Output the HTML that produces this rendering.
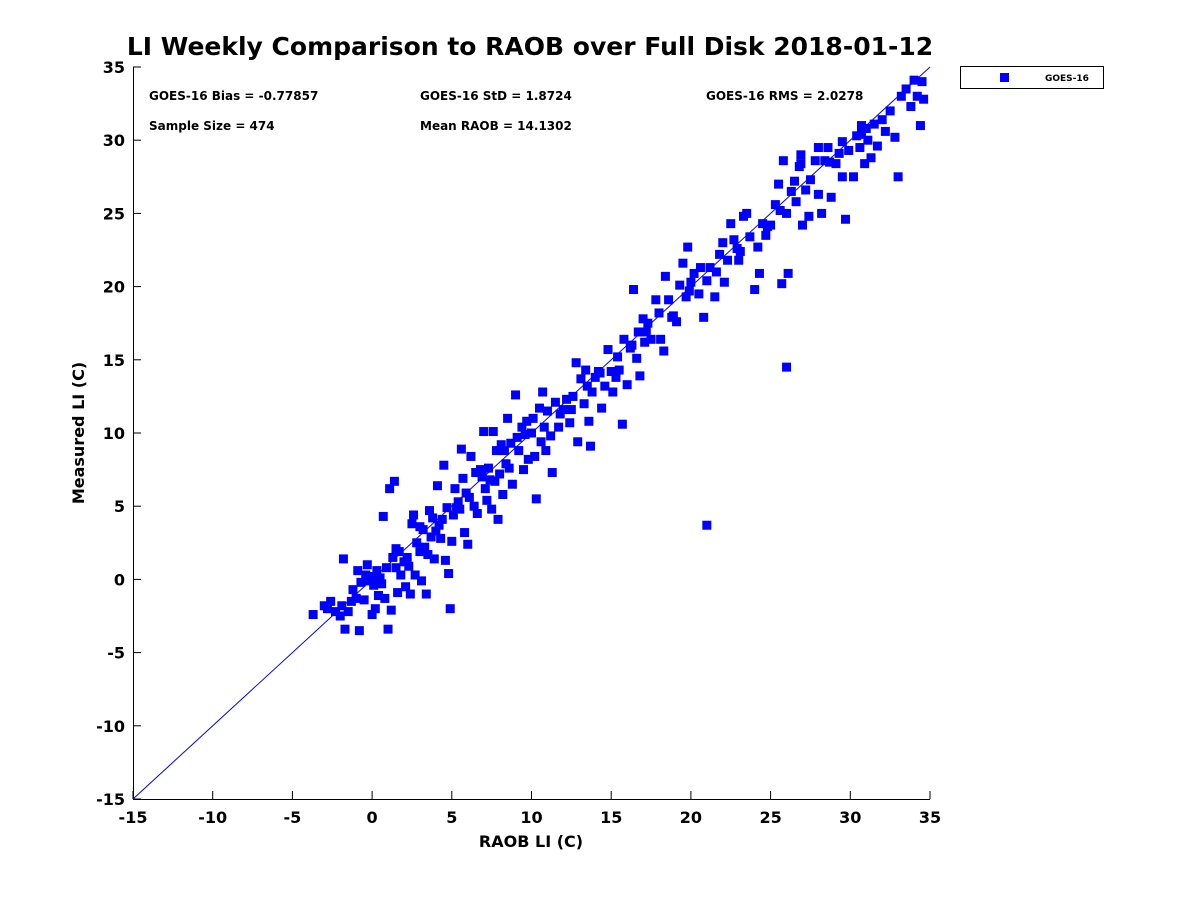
<!DOCTYPE html>
<html><head><meta charset="utf-8"><style>
body{margin:0;background:#fff;font-family:"DejaVu Sans","Liberation Sans",sans-serif}
</style></head><body>
<svg id="chart" width="1200" height="900" viewBox="0 0 1200 900" xmlns="http://www.w3.org/2000/svg" font-family="DejaVu Sans, Liberation Sans, sans-serif">
<rect width="1200" height="900" fill="#fff"/>
<text x="530" y="55" text-anchor="middle" font-size="25" font-weight="bold" fill="#000">LI Weekly Comparison to RAOB over Full Disk 2018-01-12</text>
<g id="axes"></g>
<g id="stats" font-size="12" font-weight="bold" fill="#000">
<text x="149" y="100">GOES-16 Bias = -0.77857</text>
<text x="420" y="100">GOES-16 StD = 1.8724</text>
<text x="706" y="100">GOES-16 RMS = 2.0278</text>
<text x="149" y="130">Sample Size = 474</text>
<text x="420" y="130">Mean RAOB = 14.1302</text>
</g>
<g>
<rect x="960.5" y="66.5" width="143" height="22" fill="#fff" stroke="#000" stroke-width="1"/>
<rect x="1000" y="73" width="9" height="9" fill="#0000ff"/>
<text x="1045" y="81" font-size="9" font-weight="bold">GOES-16</text>
</g>
<g id="marks"></g>
<text x="531" y="847" text-anchor="middle" font-size="16" font-weight="bold">RAOB LI (C)</text>
<text transform="translate(84,433) rotate(-90)" text-anchor="middle" font-size="16" font-weight="bold">Measured LI (C)</text>
</svg>
<script>
const xTicks=[-15,-10,-5,0,5,10,15,20,25,30,35];
const yTicks=[-15,-10,-5,0,5,10,15,20,25,30,35];
const raobX=[-3.7,-3,-2.8,-2.6,-2.3,-2,-1.9,-1.8,-1.7,-1.5,-1.3,-1.2,-1,-0.9,-0.8,-0.7,-0.5,-0.4,-0.3,-0.2,0,0,0.1,0.2,0.3,0.4,0.5,0.6,0.7,0.8,0.9,1,1.1,1.2,1.3,1.4,1.5,1.6,1.7,1.8,2,2.1,2.3,2.4,2.5,2.6,2.7,2.8,3,3.1,3.2,3.3,3.4,3.5,3.6,3.7,3.8,3.9,4,4.1,4.2,4.3,4.5,4.6,4.7,4.8,4.9,5,5.1,5.2,5.4,5.5,5.6,5.7,5.8,5.9,6,6.2,6.4,6.5,6.6,6.8,7,7.1,7.2,7.3,7.5,7.6,7.7,7.8,7.9,8,8.1,8.2,8.3,8.5,8.6,8.7,8.8,9,9.1,9.2,9.4,9.5,9.7,9.8,10,10.1,10.2,10.3,10.5,10.6,10.7,10.9,11,11.2,11.3,11.5,11.7,12,12.2,12.4,12.6,12.8,12.9,13.1,13.3,13.4,13.6,13.7,13.8,14,14.2,14.4,14.6,14.8,15,15.1,15.3,15.5,15.7,15.8,16,16.2,16.4,16.6,16.7,16.8,17,17.1,17.3,17.5,17.8,18,18.1,18.3,18.4,18.6,18.9,19.1,19.3,19.5,19.7,19.8,20,20.2,20.5,20.6,20.8,21,21.2,21.5,21.8,22,22.1,22.3,22.5,22.7,22.9,23,23.3,23.5,23.7,24,24.2,24.3,24.5,24.7,25,25.3,25.5,25.6,25.7,26,26.1,26.3,26.5,26.6,26.8,26.9,27,27.2,27.4,27.5,27.8,28,28.2,28.4,28.6,28.8,29.1,29.3,29.5,29.7,29.9,30.2,30.4,30.6,30.7,30.9,31.1,31.3,31.5,31.7,32,32.2,32.5,32.8,33,33.2,33.5,33.8,34,34.2,34.4,34.5,34.6,26,21,25.8,26.9,28,28.7,29.5,30.7,31,1.5,2.2,3,4.4,5.3,6.1,6.9,7.4,8.4,9.6,10.8,11.8,12.5,13.5,14.3,15.4,16.3,17.2,18.8,19.9,21.6,23.1,24.8];
const measY=[-2.4,-1.8,-2,-1.5,-2.2,-2.5,-1.8,1.4,-3.4,-2.2,-1.5,-0.7,-1.3,0.6,-3.5,-0.2,-1.4,0.3,1,-0.1,-2.4,0.2,-0.4,-2,0.6,-1.1,0.1,-0.3,4.3,-1.3,0.8,-3.4,6.2,-2.1,1.5,6.7,0.8,-0.9,1.9,0.3,1.2,-0.5,0.9,-1,3.8,4.4,0.3,2.5,1.9,-0.1,3.4,2.2,-1,1.7,4.7,2.9,4.2,1.4,3.3,6.4,3.7,2.8,7.8,1.3,4.9,0.4,-2,2.6,4.4,6.2,5.3,4.8,8.9,6.9,3.2,5.9,2.4,8.4,5,7.3,4.5,7.5,10.1,6.2,5.4,7.6,4.8,10.1,6.7,8.8,4.1,7.2,9.2,5.8,8.8,11,7.6,9.3,6.5,12.6,9.7,8.8,10.4,7.5,10.8,8.2,10,11,8.4,5.5,11.7,9.4,12.8,8.8,11.5,9.8,7.3,12.1,10.4,11.6,12.3,10.7,12.5,14.8,9.4,13.7,12,14.3,10.8,9.1,12.8,13.8,14.2,11.7,13.2,15.7,14.2,12.8,13.8,14.3,10.6,16.4,13.3,15.8,19.8,15.1,16.9,13.9,17.8,16.2,17.5,16.4,19.1,18.2,16.4,15.6,20.7,19.1,18,17.6,20.1,21.6,19.3,22.7,20.3,20.9,19.5,21.3,17.9,20.4,21.3,19.3,22.2,23,20.3,21.8,24.3,23.2,22.6,21.8,24.8,25,23.4,19.8,22.7,20.9,24.3,23.5,24.2,25.6,27,25.2,20.2,25,20.9,26.5,27.2,25.8,28.2,29,24.2,26.6,24.8,27.3,28.6,26.3,25,28.6,29.5,26.1,28.4,29.1,27.5,24.6,29.3,27.5,30.3,29.5,31,28.4,30,28.8,31.1,29.6,31.4,30.6,32,30.2,27.5,33,33.5,32.3,34.1,33,31,34,32.8,14.5,3.7,28.6,28.4,29.5,28.5,29.9,30.4,30.8,2.1,1.5,3.6,4.1,4.9,5.6,7,6.8,7.9,9.9,10.4,11.3,11.6,13.2,14.1,15.2,16,16.9,17.9,19.7,21,22.4,24.1];
const X0=133,X1=930,Y0=799,Y1=67,MIN=-15,MAX=35;
const sx=v=>X0+(v-MIN)/(MAX-MIN)*(X1-X0);
const sy=v=>Y0-(v-MIN)/(MAX-MIN)*(Y0-Y1);
const NS='http://www.w3.org/2000/svg';
const axes=document.getElementById('axes'),marks=document.getElementById('marks');
function mk(t,a,p){const e=document.createElementNS(NS,t);for(const k in a)e.setAttribute(k,a[k]);p.appendChild(e);return e;}
const xa=mk('line',{x1:X0,y1:Y0+0.5,x2:X1,y2:Y0+0.5,stroke:'#000','stroke-width':1},axes);


const ya=mk('line',{x1:X0+0.5,y1:Y1,x2:X0+0.5,y2:Y0,stroke:'#000','stroke-width':1},axes);


xTicks.forEach(v=>{const x=sx(v);
 mk('line',{x1:x,y1:Y0,x2:x,y2:Y0-8,stroke:'#000'},axes);
 const t=mk('text',{x:x,y:Y0+24,'text-anchor':'middle','font-size':16,'font-weight':'bold'},axes);t.textContent=v;
 
 });
yTicks.forEach(v=>{const y=sy(v);
 mk('line',{x1:X0,y1:y,x2:X0+8,y2:y,stroke:'#000'},axes);
 const t=mk('text',{x:X0-8,y:y+6,'text-anchor':'end','font-size':16,'font-weight':'bold'},axes);t.textContent=v;
 
 });
const dl=mk('line',{x1:sx(MIN),y1:sy(MIN),x2:sx(MAX),y2:sy(MAX),stroke:'#0000ff','stroke-width':1},marks);


raobX.forEach((v,i)=>{const r=mk('rect',{x:sx(v)-4.5,y:sy(measY[i])-4.5,width:9,height:9,fill:'#0000ff'},marks);
 
 });
</script>
</body></html>
